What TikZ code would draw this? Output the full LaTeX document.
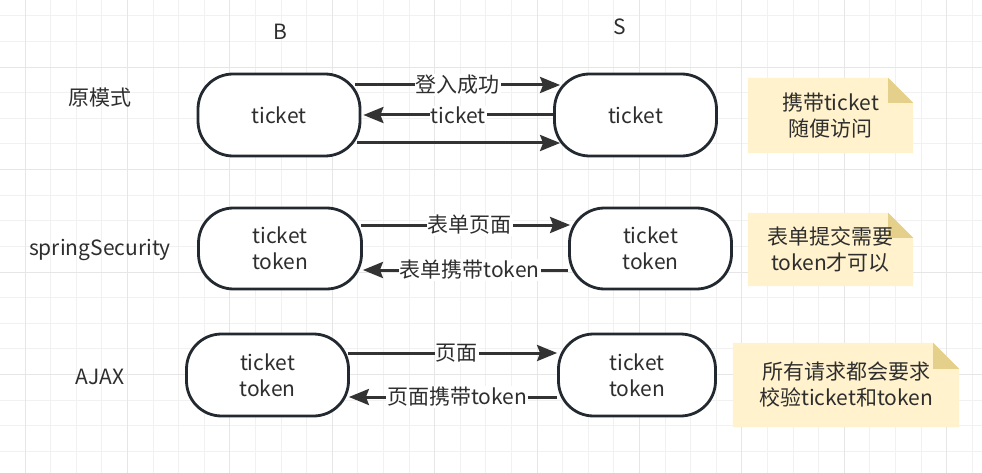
\documentclass[tikz,border=0pt]{standalone}
\usepackage{fontspec}
\setmainfont{Noto Sans CJK SC}
\usetikzlibrary{arrows.meta}
\definecolor{txt}{HTML}{2E2E2E}
\definecolor{boxc}{RGB}{35,41,48}
\definecolor{arrc}{HTML}{333333}
\definecolor{gridminor}{HTML}{F1F1F1}
\definecolor{gridmajor}{HTML}{E6E6E6}
\definecolor{notefill}{HTML}{FFF2CC}
\definecolor{notefold}{RGB}{228,208,138}
\pgfdeclarelayer{background}
\pgfsetlayers{background,main}
\newcommand{\fs}{\fontsize{21}{26}\selectfont}
\begin{document}
\begin{tikzpicture}[x=1pt,y=-1pt,
  box/.style={draw=boxc, line width=2.8pt, rounded corners=35pt, fill=white,
    align=center, font=\fs, text=txt, inner sep=0pt},
  arr/.style={draw=arrc, line width=3pt, -{Stealth[length=20pt,width=16pt,inset=3pt]}},
  lbl/.style={fill=white, font=\fs, text=txt, inner sep=1pt},
  plain/.style={font=\fs, text=txt, inner sep=0pt},
  notebox/.style={font=\fs, text=txt, inner sep=0pt, align=center}]
\useasboundingbox (0,0) rectangle (982,473);

% boxes
\node[box, minimum width=162pt, minimum height=82pt] (b1) at (279,115) {ticket};
\node[box, minimum width=162pt, minimum height=82pt] (s1) at (635.5,115) {ticket};
\node[box, minimum width=163pt, minimum height=81pt] (b2) at (280,248.5) {ticket\\token};
\node[box, minimum width=162pt, minimum height=81pt] (s2) at (650.5,248.5) {ticket\\token};
\node[box, minimum width=162pt, minimum height=82pt] (b3) at (267.5,375) {ticket\\token};
\node[box, minimum width=157pt, minimum height=82pt] (s3) at (637,375) {ticket\\token};

% headers
\node[plain] (hb) at (280,32) {B};
\node[plain] (hs) at (620,27) {S};
\node[plain] (r1) at (100,98) {原模式};
\node[plain] (r2) at (100,250) {springSecurity};
\node[plain] (r3) at (100,377) {AJAX};

% arrows row 1
\draw[arr] ([xshift=-6pt,yshift=30pt]b1.east) -- node[lbl, pos=0.5]{登入成功} ([xshift=7pt,yshift=30pt]s1.west);
\draw[arr] (s1.west) -- node[lbl, pos=0.5]{ticket} ([xshift=2pt]b1.east);
\draw[arr] ([xshift=-4pt,yshift=-28pt]b1.east) -- ([xshift=7pt,yshift=-28pt]s1.west);

% arrows row 2
\draw[arr] ([xshift=-2pt,yshift=23.5pt]b2.east) -- node[lbl, pos=0.52]{表单页面} ([xshift=2pt,yshift=23.5pt]s2.west);
\draw[arr] ([yshift=-21.5pt]s2.west) -- node[lbl, pos=0.48]{表单携带token} ([xshift=0pt,yshift=-21.5pt]b2.east);

% arrows row 3
\draw[arr] ([xshift=-2pt,yshift=22pt]b3.east) -- node[lbl, pos=0.52]{页面} ([xshift=0pt,yshift=22pt]s3.west);
\draw[arr] ([yshift=-22pt]s3.west) -- node[lbl, pos=0.48]{页面携带token} ([xshift=-1pt,yshift=-22pt]b3.east);

% notes
\node[notebox, minimum width=165pt, minimum height=75pt] (n1) at (830.5,115.5) {携带ticket\\随便访问};
\node[notebox, minimum width=165pt, minimum height=73pt] (n2) at (830.5,249.5) {表单提交需要\\token才可以};
\node[notebox, minimum width=226pt, minimum height=84pt] (n3) at (846,385) {所有请求都会要求\\校验ticket和token};

\begin{pgfonlayer}{background}
  \fill[white] (0,0) rectangle (982,473);
  \foreach \k in {0,...,38} {\draw[gridminor, line width=1pt] ({-0.6+25.6*\k},0) -- ({-0.6+25.6*\k},473);}
  \foreach \k in {0,...,17} {\draw[gridminor, line width=1pt] (0,{16+25.6*\k}) -- (982,{16+25.6*\k});}
  \foreach \k in {1,5,...,37} {\draw[gridmajor, line width=1pt] ({-0.6+25.6*\k},0) -- ({-0.6+25.6*\k},473);}
  \foreach \k in {2,6,...,14} {\draw[gridmajor, line width=1pt] (0,{16+25.6*\k}) -- (982,{16+25.6*\k});}
  \foreach \n/\f in {n1/25,n2/25,n3/26} {
    \fill[notefill] (\n.north west) -- ([xshift=-\f pt]\n.north east) -- ([yshift=-\f pt]\n.north east) -- (\n.south east) -- (\n.south west) -- cycle;
    \fill[notefold] ([xshift=-\f pt]\n.north east) -- ([xshift=-\f pt,yshift=-\f pt]\n.north east) -- ([yshift=-\f pt]\n.north east) -- cycle;
  }
\end{pgfonlayer}
\end{tikzpicture}
\end{document}
